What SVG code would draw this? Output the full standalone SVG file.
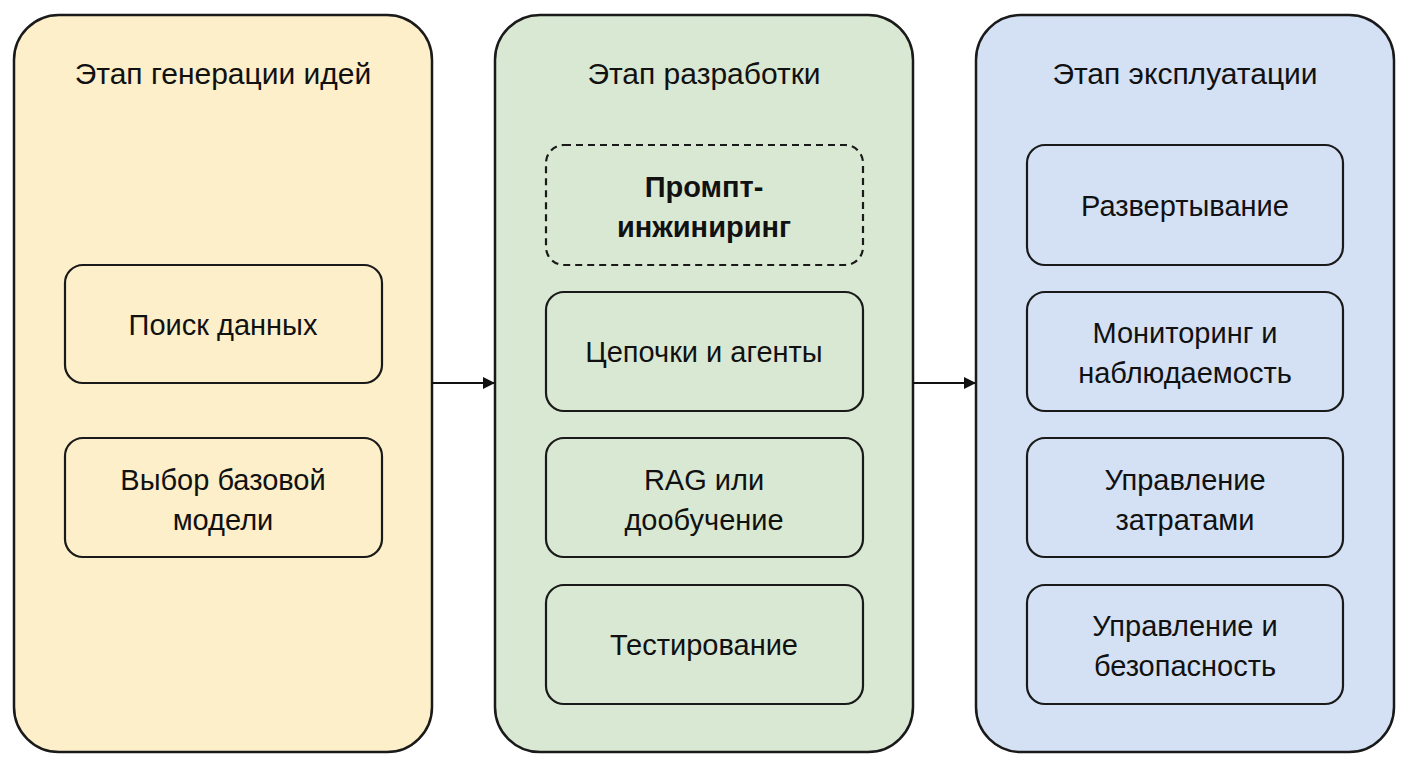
<svg xmlns="http://www.w3.org/2000/svg" width="1408" height="768" viewBox="0 0 1408 768">
<style>
.panel{stroke:#1a1a1a;stroke-width:2.5}
.box{stroke:#1a1a1a;stroke-width:2.2}
.t{font-family:"Liberation Sans",Arial,sans-serif;font-size:29px;fill:#111;text-anchor:middle}
.h{font-family:"Liberation Sans",Arial,sans-serif;font-size:30px;fill:#111;text-anchor:middle}
.c{stroke:#111;stroke-width:2.2;fill:none}
</style>
<defs><marker id="a" markerWidth="12" markerHeight="12" refX="11" refY="6" orient="auto" markerUnits="userSpaceOnUse"><path d="M0,0 L12,6 L0,12 Z" fill="#111"/></marker></defs>
<rect width="1408" height="768" fill="#fff"/>
<g id="p1"><rect class="panel" x="14" y="15" width="418" height="737" rx="45" fill="#fcefc9"/><text class="h" x="223" y="84">Этап генерации идей</text></g>
<g id="p2"><rect class="panel" x="495" y="15" width="418" height="737" rx="45" fill="#d9e8d2"/><text class="h" x="704" y="84">Этап разработки</text></g>
<g id="p3"><rect class="panel" x="976" y="15" width="418" height="737" rx="45" fill="#d4e1f5"/><text class="h" x="1185" y="84">Этап эксплуатации</text></g>
<g id="n1"><rect class="box" x="65" y="265" width="317" height="118" rx="18" fill="#fcefc9"/><text class="t" x="223" y="335">Поиск данных</text></g>
<g id="n2"><rect class="box" x="65" y="438" width="317" height="119" rx="18" fill="#fcefc9"/><text class="t" x="223" y="490">Выбор базовой</text><text class="t" x="223" y="530">модели</text></g>
<g id="n3"><rect class="box" x="546" y="145" width="317" height="120" rx="18" fill="#d9e8d2" stroke-dasharray="7,5"/><text class="t" x="704" y="197" font-weight="bold">Промпт-</text><text class="t" x="704" y="237" font-weight="bold">инжиниринг</text></g>
<g id="n4"><rect class="box" x="546" y="292" width="317" height="119" rx="18" fill="#d9e8d2"/><text class="t" x="704" y="362">Цепочки и агенты</text></g>
<g id="n5"><rect class="box" x="546" y="438" width="317" height="119" rx="18" fill="#d9e8d2"/><text class="t" x="704" y="490">RAG или</text><text class="t" x="704" y="530">дообучение</text></g>
<g id="n6"><rect class="box" x="546" y="585" width="317" height="119" rx="18" fill="#d9e8d2"/><text class="t" x="704" y="655">Тестирование</text></g>
<g id="n7"><rect class="box" x="1027" y="145" width="316" height="120" rx="18" fill="#d4e1f5"/><text class="t" x="1185" y="216">Развертывание</text></g>
<g id="n8"><rect class="box" x="1027" y="292" width="316" height="119" rx="18" fill="#d4e1f5"/><text class="t" x="1185" y="343">Мониторинг и</text><text class="t" x="1185" y="383">наблюдаемость</text></g>
<g id="n9"><rect class="box" x="1027" y="438" width="316" height="119" rx="18" fill="#d4e1f5"/><text class="t" x="1185" y="490">Управление</text><text class="t" x="1185" y="530">затратами</text></g>
<g id="n10"><rect class="box" x="1027" y="585" width="316" height="119" rx="18" fill="#d4e1f5"/><text class="t" x="1185" y="636">Управление и</text><text class="t" x="1185" y="676">безопасность</text></g>
<g id="connectors"><line class="c" x1="432" y1="383" x2="494" y2="383" marker-end="url(#a)"/><line class="c" x1="913" y1="383" x2="975" y2="383" marker-end="url(#a)"/></g>
</svg>
